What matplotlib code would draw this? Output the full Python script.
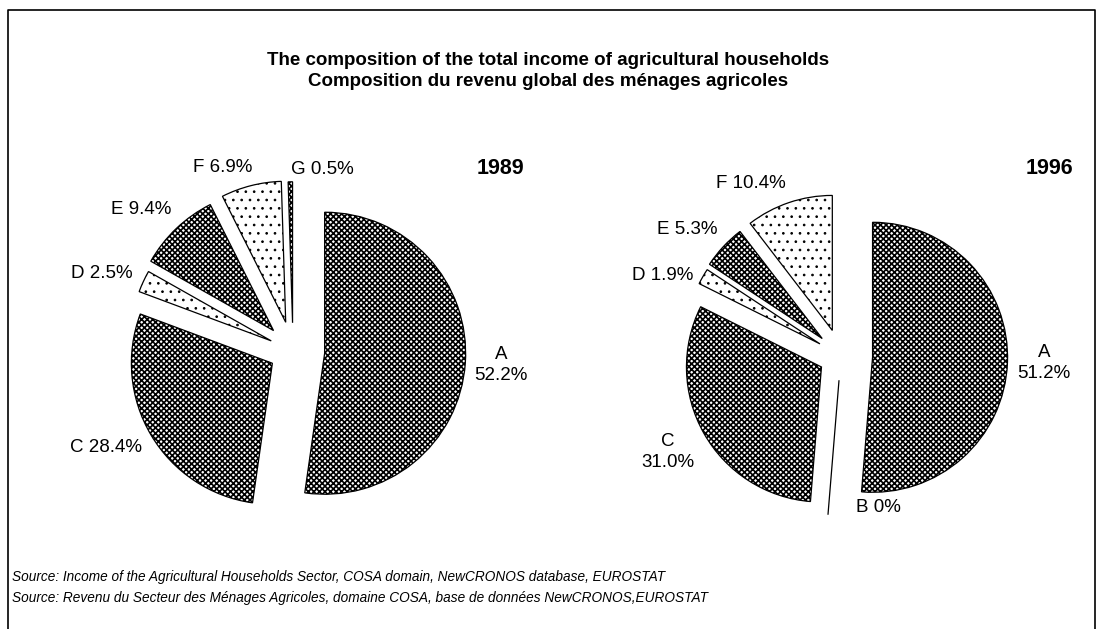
import matplotlib.pyplot as plt

plt.rcParams['font.family'] = ['Liberation Sans', 'DejaVu Sans']
plt.rcParams['hatch.linewidth'] = 1.2

W, H = 1098, 629

# shares of total income (%)
cats_1989 = ["A", "C", "D", "E", "F", "G"]
vals_1989 = [52.2, 28.4, 2.5, 9.4, 6.9, 0.5]
cats_1996 = ["A", "B", "C", "D", "E", "F"]
vals_1996 = [51.2, 0.0, 31.0, 1.9, 5.3, 10.4]

title = ("The composition of the total income of agricultural households\n"
         "Composition du revenu global des ménages agricoles")
source = ["Source: Income of the Agricultural Households Sector, COSA domain, NewCRONOS database, EUROSTAT",
          "Source: Revenu du Secteur des Ménages Agricoles, domaine COSA, base de données NewCRONOS,EUROSTAT"]

# fill pattern per category: dense checker vs sparse dots
checker = "x" * 6
pattern = {"A": checker, "B": checker, "C": checker, "D": "..", "E": checker,
           "F": "..", "G": checker}
hatch_lw = {"x": 1.2, ".": 0.7}

# layout: pie centre / radius in pixels (from top-left), explode (fraction of r), label spots
pies = [
    dict(year="1989", cats=cats_1989, vals=vals_1989, center=(293, 351), r=141,
         explode=[0.225, 0.17, 0.17, 0.2, 0.21, 0.2],
         lab_xy=[(501, 365), (106, 448), (102, 273), (141, 210), (223, 168), (322, 169)],
         two_line=["A"], year_xy=(500, 168)),
    dict(year="1996", cats=cats_1996, vals=vals_1996, center=(841, 356), r=135,
         explode=[0.234, 0.18, 0.166, 0.18, 0.19, 0.2],
         lab_xy=[(1044, 363), (878, 508), (668, 452), (663, 275), (687, 230), (751, 183)],
         two_line=["A", "C"], year_xy=(1049, 168)),
]


def fmt(v):
    return f"{v:.1f}%" if v else "0%"


fig = plt.figure(figsize=(W / 100, H / 100), dpi=100)
ax = fig.add_axes([0, 0, 1, 1])

for p in pies:
    cx, cy = p["center"]
    r = p["r"]
    wedges, _ = ax.pie(p["vals"], explode=[e * r for e in p["explode"]],
                       startangle=90, counterclock=False,
                       center=(cx, H - cy), radius=r,
                       wedgeprops=dict(facecolor="white", edgecolor="black",
                                       linewidth=0.9))
    for w, c in zip(wedges, p["cats"]):
        w.set_hatch(pattern[c])
        if hasattr(w, "set_hatch_linewidth"):
            w.set_hatch_linewidth(hatch_lw[pattern[c][0]])
    for c, v, (lx, ly) in zip(p["cats"], p["vals"], p["lab_xy"]):
        sep = "\n" if c in p["two_line"] else " "
        ax.text(lx, H - ly, f"{c}{sep}{fmt(v)}", ha="center", va="center",
                fontsize=13.5, linespacing=1.3)
    yx, yy = p["year_xy"]
    ax.text(yx, H - yy, p["year"], ha="center", va="center",
            fontsize=15.5, fontweight="bold")

# frame
ax.plot([8, 8, 1095, 1095], [-5, H - 10, H - 10, -5], color="black", lw=1.2)

ax.set_xlim(0, W)
ax.set_ylim(0, H)
ax.set_aspect("equal")
ax.axis("off")

fig.text(548 / W, 1 - 71 / H, title, ha="center", va="center",
         fontsize=13.5, fontweight="bold", linespacing=1.35)
fig.text(12 / W, 1 - 577 / H, source[0], ha="left", va="center",
         fontsize=9.8, style="italic")
fig.text(12 / W, 1 - 598 / H, source[1], ha="left", va="center",
         fontsize=9.8, style="italic")

fig.savefig("out.png", dpi=100)
